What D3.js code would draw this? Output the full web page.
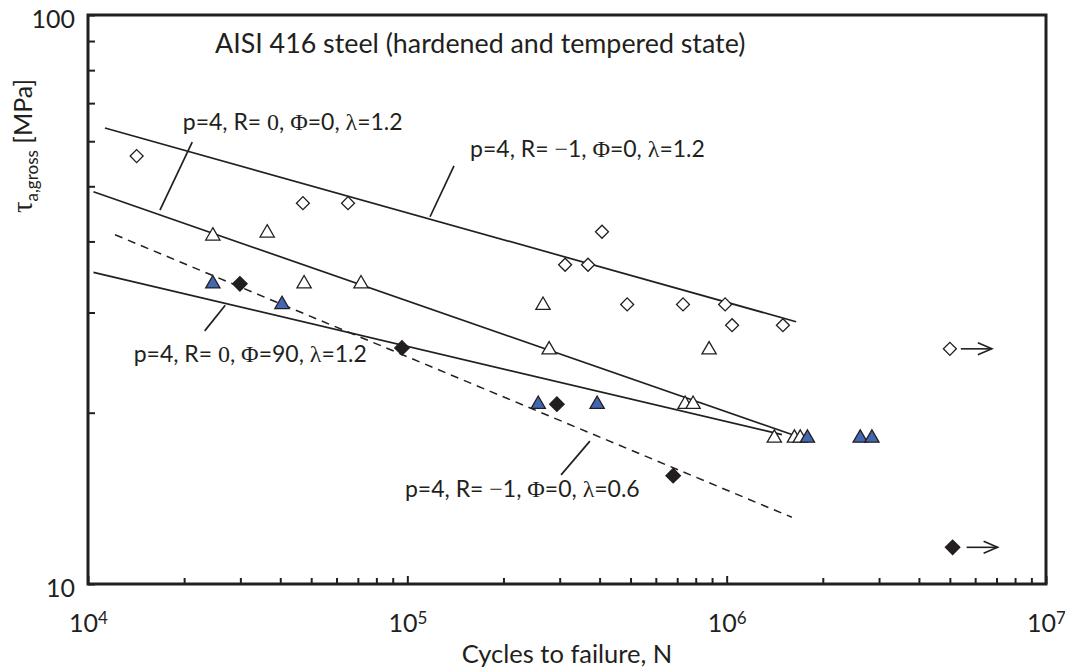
<!DOCTYPE html>
<html>
<head>
<meta charset="utf-8">
<script src="https://cdn.jsdelivr.net/npm/d3@7"></script>
<style>
body { margin: 0; background: #fff; }
svg text { font-family: Lato, 'Open Sans', sans-serif; fill: #231f20; }
.serif { font-family: 'Liberation Serif', 'DejaVu Serif', serif; }
</style>
</head>
<body>
<script>
var width = 1065;
var height = 671;

var padding = { top: 15, right: 19, bottom: 87, left: 88 };

// open diamonds: p=4, R=-1, Phi=0, lambda=1.2
var diamondOpen = [
    [1.42e4, 56.5], [4.71e4, 46.7], [6.52e4, 46.7], [3.12e5, 36.4], [3.68e5, 36.4],
    [4.07e5, 41.6], [4.88e5, 31.0], [7.30e5, 31.0], [9.89e5, 31.0], [1.04e6, 28.5],
    [1.50e6, 28.5]
];
var diamondOpenRunout = [[5.0e6, 25.9]];

// open triangles: p=4, R=0, Phi=0, lambda=1.2
var triangleOpen = [
    [2.46e4, 40.9], [3.64e4, 41.4], [4.75e4, 33.7], [7.16e4, 33.7], [2.66e5, 30.9],
    [2.78e5, 25.8], [8.81e5, 25.8], [7.41e5, 20.7], [7.85e5, 20.7], [1.41e6, 18.05],
    [1.63e6, 18.05], [1.70e6, 18.05]
];

// blue triangles: p=4, R=0, Phi=90, lambda=1.2
var triangleBlue = [
    [2.46e4, 33.7], [4.05e4, 31.0], [2.57e5, 20.7], [3.93e5, 20.7], [1.79e6, 18.05],
    [2.62e6, 18.05], [2.85e6, 18.05]
];

// black diamonds: p=4, R=-1, Phi=0, lambda=0.6
var diamondFilled = [[2.99e4, 33.7], [9.62e4, 26.0], [2.94e5, 20.7], [6.80e5, 15.5]];
var diamondFilledRunout = [[5.1e6, 11.6]];

// fitted curves
var fitA = [[1.13e4, 63.3], [1.65e6, 28.9]];
var fitB = [[1.04e4, 48.9], [1.72e6, 18.05]];
var fitC = [[1.04e4, 35.3], [1.49e6, 18.3]];
var fitD = [[1.215e4, 41.1], [1.60e6, 13.1]];

// leader lines from the labels to the curves
var leaders = [
    [[2.12e4, 59.8], [1.68e4, 45.4]],
    [[1.40e5, 54.3], [1.178e5, 44.2]],
    [[2.69e4, 30.9], [2.32e4, 27.85]],
    [[3.73e5, 17.83], [3.03e5, 15.55]]
];

var xMajor = [1e4, 1e5, 1e6, 1e7];
var xExp = ['4', '5', '6', '7'];
var yMajor = [10, 100];

var xMinor = [];
[1e4, 1e5, 1e6].forEach(function(d) {
    for (var k = 2; k <= 9; k++) xMinor.push(d * k);
});
var yMinor = [20, 30, 40, 50, 60, 70, 80, 90];

var xScale = d3.scaleLog()
    .domain([1e4, 1e7])
    .range([padding.left, width - padding.right]);

var yScale = d3.scaleLog()
    .domain([10, 100])
    .range([height - padding.bottom, padding.top]);

var svg = d3.select('body')
    .append('svg')
    .attr('width', width)
    .attr('height', height);

var ink = '#231f20';
var x0 = xScale.range()[0], x1 = xScale.range()[1];
var y0 = yScale.range()[0], y1 = yScale.range()[1];

// ticks (pointing inward)
function tickAxis(axis, tf) {
    var g = svg.append('g').attr('transform', tf).call(axis);
    g.select('.domain').remove();
    g.selectAll('.tick line').attr('stroke', ink).attr('stroke-width', 2);
    return g;
}

tickAxis(d3.axisBottom(xScale).tickValues(xMinor).tickSize(-6).tickFormat(''),
    'translate(0,' + y0 + ')');
var gx = tickAxis(d3.axisBottom(xScale).tickValues(xMajor).tickSize(-8).tickPadding(18),
    'translate(0,' + y0 + ')');
gx.selectAll('.tick text')
    .text(null)
    .style('font-size', '25px')
    .attr('dy', '1.2em')
    .each(function(d, i) {
        var t = d3.select(this);
        t.append('tspan').text('10');
        t.append('tspan').attr('dy', '-0.45em').style('font-size', '17px').text(xExp[i]);
    });

tickAxis(d3.axisLeft(yScale).tickValues(yMinor).tickSize(-7).tickFormat(''),
    'translate(' + x0 + ',0)');
var gy = tickAxis(d3.axisLeft(yScale).tickValues(yMajor).tickSize(-7).tickPadding(13)
    .tickFormat(d3.format('d')), 'translate(' + x0 + ',0)');
gy.selectAll('.tick text')
    .style('font-size', '25px')
    .attr('dy', '0.5em');

// frame
svg.append('rect')
    .attr('x', x0)
    .attr('y', y1)
    .attr('width', x1 - x0)
    .attr('height', y0 - y1)
    .attr('fill', 'none')
    .attr('stroke', ink)
    .attr('stroke-width', 3);

var linePath = d3.line()
    .x(function(d) { return xScale(d[0]); })
    .y(function(d) { return yScale(d[1]); });

[fitA, fitB, fitC].forEach(function(f) {
    svg.append('path')
        .attr('d', linePath(f))
        .attr('fill', 'none')
        .attr('stroke', ink)
        .attr('stroke-width', 1.7);
});
svg.append('path')
    .attr('d', linePath(fitD))
    .attr('fill', 'none')
    .attr('stroke', ink)
    .attr('stroke-width', 1.5)
    .attr('stroke-dasharray', '8,6');

svg.append('g')
    .selectAll('path')
    .data(leaders)
    .enter()
    .append('path')
    .attr('d', function(d) { return linePath(d); })
    .attr('stroke', ink)
    .attr('stroke-width', 1.7);

// markers
var diamondOpenSym = d3.symbol().type(d3.symbolSquare).size(84);
var diamondFilledSym = d3.symbol().type(d3.symbolSquare).size(104);
var triangleSym = d3.symbol().type(d3.symbolTriangle).size(88);

function markers(data, sym, fill, rotate) {
    svg.append('g')
        .selectAll('path')
        .data(data)
        .enter()
        .append('path')
        .attr('d', sym)
        .attr('transform', function(d) {
            return 'translate(' + xScale(d[0]) + ',' + yScale(d[1]) + ')' + (rotate ? ' rotate(45)' : '');
        })
        .attr('fill', fill)
        .attr('stroke', ink)
        .attr('stroke-width', 1.3);
}

markers(diamondOpen.concat(diamondOpenRunout), diamondOpenSym, '#fff', true);
markers(triangleOpen, triangleSym, '#fff', false);
markers(triangleBlue, triangleSym, '#4368b2', false);
markers(diamondFilled.concat(diamondFilledRunout), diamondFilledSym, ink, true);

// run-out arrows
function runout(data, gap) {
    var g = svg.append('g')
        .selectAll('g')
        .data(data)
        .enter()
        .append('g')
        .attr('transform', function(d) {
            return 'translate(' + xScale(d[0]) + ',' + yScale(d[1]) + ')';
        });
    g.append('line')
        .attr('x1', gap).attr('x2', gap + 31)
        .attr('y1', 0).attr('y2', 0)
        .attr('stroke', ink).attr('stroke-width', 1.6);
    g.append('polyline')
        .attr('points', (gap + 17) + ',-6 ' + (gap + 31) + ',0 ' + (gap + 17) + ',6')
        .attr('fill', 'none')
        .attr('stroke', ink).attr('stroke-width', 1.6);
}
runout(diamondOpenRunout, 11);
runout(diamondFilledRunout, 14);

// texts
svg.append('text')
    .attr('x', xScale(2.5e4))
    .attr('y', yScale(85.8))
    .style('font-size', '26.8px')
    .text('AISI 416 steel (hardened and tempered state)');

function label(pos, rText, phi, lam) {
    var t = svg.append('text')
        .attr('x', xScale(pos[0]))
        .attr('y', yScale(pos[1]))
        .style('font-size', '23px');
    t.append('tspan').text('p=4, R= ');
    t.append('tspan').attr('class', 'serif').style('font-size', '24px').text(rText);
    if (rText === '\u22121') {
        t.select('tspan.serif').text('\u2212');
        t.append('tspan').text('1');
    }
    t.append('tspan').text(', ');
    t.append('tspan').attr('class', 'serif').style('font-size', '24px').text('\u03a6');
    t.append('tspan').text('=' + phi + ', ');
    t.append('tspan').attr('class', 'serif').style('font-size', '24px').text('\u03bb');
    t.append('tspan').text('=' + lam);
}
label([1.98e4, 62.8], '0', '0', '1.2');
label([1.572e5, 56.3], '\u22121', '0', '1.2');
label([1.39e4, 24.55], '0', '90', '1.2');
label([9.83e4, 14.22], '\u22121', '0', '0.6');

svg.append('text')
    .attr('x', (x0 + x1) / 2)
    .attr('y', 663)
    .attr('text-anchor', 'middle')
    .style('font-size', '25.5px')
    .text('Cycles to failure, N');

var yl = svg.append('text')
    .attr('transform', 'translate(32,146) rotate(-90)')
    .attr('text-anchor', 'middle')
    .style('font-size', '25px');
yl.append('tspan').attr('class', 'serif').style('font-size', '29px').text('\u03c4');
yl.append('tspan').attr('dy', 6).style('font-size', '17px').text('a,gross');
yl.append('tspan').attr('dy', -6).text(' [MPa]');
</script>
</body>
</html>
